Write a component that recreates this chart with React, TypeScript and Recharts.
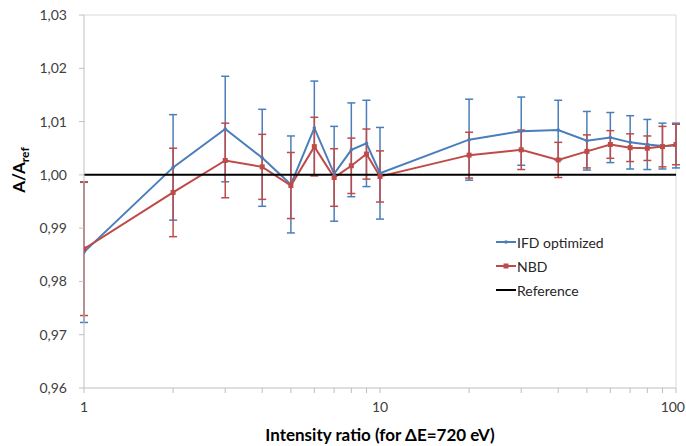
import {
  ComposedChart,
  ErrorBar,
  Line,
  ReferenceLine,
  XAxis,
  YAxis,
} from 'recharts';

// intensity ratios (log axis)
const xValues = [1, 2, 3, 4, 5, 6, 7, 8, 9, 10, 20, 30, 40, 50, 60, 70, 80, 90, 100];

const ifdValues = [
  0.9855, 1.0014, 1.0086, 1.0032, 0.9982, 1.0088, 1.0002, 1.0047, 1.0059, 1.0003,
  1.0066, 1.0082, 1.0084, 1.0064, 1.007, 1.0061, 1.0057, 1.0054, 1.0055,
];
const ifdErrors = [
  0.0132, 0.0099, 0.0099, 0.0091, 0.0091, 0.0088, 0.0089, 0.0088, 0.0081, 0.0086,
  0.0076, 0.0064, 0.0056, 0.0055, 0.0047, 0.005, 0.0047, 0.0043, 0.0042,
];
const nbdValues = [
  0.9861, 0.9967, 1.0027, 1.0015, 0.998, 1.0053, 0.9995, 1.0017, 1.0039, 0.9997,
  1.0037, 1.0047, 1.0028, 1.0044, 1.0057, 1.0051, 1.005, 1.0053, 1.0057,
];
const nbdErrors = [
  0.0125, 0.0083, 0.007, 0.0061, 0.0062, 0.0055, 0.0054, 0.0052, 0.0047, 0.0048,
  0.0043, 0.0037, 0.0033, 0.0031, 0.0026, 0.0026, 0.0023, 0.0038, 0.0038,
];
const referenceValue = 1.0;

const xTicks = [1, 2, 3, 4, 5, 6, 7, 8, 9, 10, 20, 30, 40, 50, 60, 70, 80, 90, 100];
const xLabeled = [1, 10, 100];
const yTicks = [0.96, 0.97, 0.98, 0.99, 1.0, 1.01, 1.02, 1.03];

const BLUE = '#4a7ebb';
const RED = '#be4b48';
const FONT = 'Lato, "Open Sans", sans-serif';

const data = xValues.map((x, i) => ({
  x,
  ifd: ifdValues[i],
  ifdErr: ifdErrors[i],
  nbd: nbdValues[i],
  nbdErr: nbdErrors[i],
  ref: referenceValue,
}));

const legendItems = [
  { name: 'IFD optimized', color: BLUE, marker: 'dot' },
  { name: 'NBD', color: RED, marker: 'square' },
  { name: 'Reference', color: '#000', marker: 'none' },
];

function SquareDot(props: any) {
  const { cx, cy } = props;
  if (cx == null || cy == null) return null;
  return <rect x={cx - 2.5} y={cy - 2.5} width={5} height={5} fill={RED} />;
}

function SmallDot(props: any) {
  const { cx, cy } = props;
  if (cx == null || cy == null) return null;
  return <circle cx={cx} cy={cy} r={1.8} fill={BLUE} />;
}

// only 1, 10, 100 get a label; the last one is kept inside the frame
function XTick(props: any) {
  const { x, y, payload } = props;
  const v = payload.value;
  if (!xLabeled.includes(v)) return null;
  const last = v === xLabeled[xLabeled.length - 1];
  return (
    <text
      x={last ? 685 : x}
      y={y}
      dy="0.71em"
      textAnchor={last ? 'end' : 'middle'}
      fontSize={14}
      fontFamily={FONT}
      fill="#404040"
    >
      {v}
    </text>
  );
}

// legend drawn as an overlay so it doesn't eat into the plot area
function LegendBox() {
  return (
    <div
      style={{
        position: 'absolute',
        left: 496,
        top: 230,
        fontFamily: FONT,
        fontSize: 14,
        color: '#262626',
      }}
    >
      {legendItems.map((it) => (
        <div key={it.name} style={{ display: 'flex', alignItems: 'center', height: 24 }}>
          <svg width={20} height={10} style={{ marginRight: 1 }}>
            <line x1={0} y1={5} x2={20} y2={5} stroke={it.color} strokeWidth={2} />
            {it.marker === 'dot' && <circle cx={10} cy={5} r={1.8} fill={it.color} />}
            {it.marker === 'square' && <rect x={7.5} y={2.5} width={5} height={5} fill={it.color} />}
          </svg>
          <span>{it.name}</span>
        </div>
      ))}
    </div>
  );
}

export default function App() {
  return (
    <div style={{ position: 'fixed', left: 0, top: 0, width: 686, height: 446, background: '#fff' }}>
      <ComposedChart
        width={686}
        height={446}
        data={data}
        margin={{ top: 15, right: 10, bottom: 0, left: 0 }}
      >
        <XAxis
          dataKey="x"
          type="number"
          scale="log"
          domain={[1, 100]}
          allowDataOverflow
          ticks={xTicks}
          interval={0}
          height={58}
          tickSize={5}
          tickMargin={9}
          stroke="#bfbfbf"
          tick={<XTick />}
          label={({ viewBox }: any) => (
            <text
              x={viewBox.x + viewBox.width / 2}
              y={441}
              textAnchor="middle"
              fontFamily={FONT}
              fontWeight="bold"
              fontSize={17}
              fill="#000"
            >
              Intensity ratio (for ΔE=720 eV)
            </text>
          )}
        />
        <YAxis
          type="number"
          domain={[0.96, 1.03]}
          allowDataOverflow
          ticks={yTicks}
          interval={0}
          width={84}
          tickSize={5}
          tickMargin={12}
          stroke="#bfbfbf"
          tick={{ fontSize: 14, fill: '#404040', fontFamily: FONT }}
          tickFormatter={(v: number) => v.toFixed(2).replace('.', ',')}
          label={() => (
            <text
              transform="translate(25,170) rotate(-90)"
              textAnchor="middle"
              fontFamily={FONT}
              fontWeight="bold"
              fontSize={17}
              fill="#000"
            >
              A/A
              <tspan fontSize={12} dy={4}>
                ref
              </tspan>
            </text>
          )}
        />
        <ReferenceLine y={1.03} stroke="#d9d9d9" strokeWidth={1} />
        <ReferenceLine x={100} stroke="#d9d9d9" strokeWidth={1} />
        <Line
          dataKey="ifd"
          name="IFD optimized"
          stroke={BLUE}
          strokeWidth={2}
          dot={<SmallDot />}
          activeDot={false}
          isAnimationActive={false}
        >
          <ErrorBar
            dataKey="ifdErr"
            direction="y"
            width={4}
            stroke={BLUE}
            strokeWidth={1.5}
            isAnimationActive={false}
          />
        </Line>
        <Line
          dataKey="nbd"
          name="NBD"
          stroke={RED}
          strokeWidth={2}
          dot={<SquareDot />}
          activeDot={false}
          isAnimationActive={false}
        >
          <ErrorBar
            dataKey="nbdErr"
            direction="y"
            width={4}
            stroke={RED}
            strokeWidth={1.5}
            isAnimationActive={false}
          />
        </Line>
        <Line
          dataKey="ref"
          name="Reference"
          stroke="#000"
          strokeWidth={2}
          dot={false}
          activeDot={false}
          isAnimationActive={false}
        />
      </ComposedChart>
      <LegendBox />
    </div>
  );
}
